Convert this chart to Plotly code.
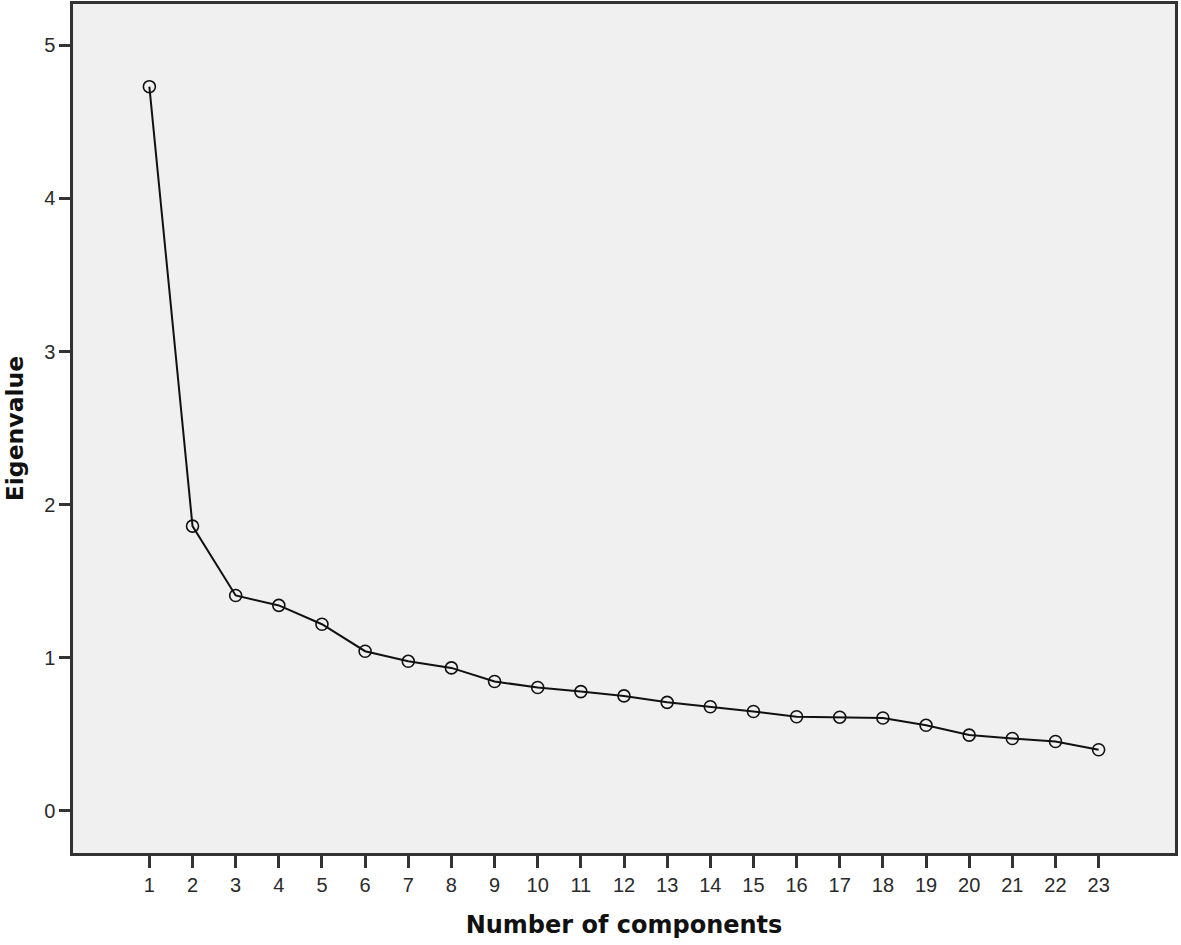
import plotly.graph_objects as go

components = list(range(1, 24))
eigenvalues = [4.73, 1.86, 1.407, 1.342, 1.219, 1.043, 0.977, 0.934, 0.845, 0.806, 0.779,
               0.751, 0.709, 0.68, 0.649, 0.615, 0.612, 0.607, 0.559, 0.495, 0.473, 0.453, 0.399]
y_ticks = [0, 1, 2, 3, 4, 5]

fig = go.Figure()
fig.add_trace(go.Scatter(
    x=components, y=eigenvalues, mode="lines+markers",
    line=dict(color="#111111", width=2),
    marker=dict(symbol="circle-open", size=12, color="#111111", line=dict(width=1.6)),
    showlegend=False,
))

fig.update_layout(
    width=1181, height=945,
    margin=dict(l=73, r=6, t=4, b=92),
    paper_bgcolor="white",
    plot_bgcolor="#F0F0F0",
    font=dict(family="Liberation Sans, Arial, sans-serif", color="#222222"),
)
fig.update_xaxes(
    range=[-0.77, 24.77], tickvals=components, ticktext=[str(c) for c in components],
    showgrid=False, zeroline=False, automargin=False,
    showline=True, mirror=True, linecolor="#333333", linewidth=2.5,
    ticks="outside", ticklen=12, tickwidth=2.5, tickcolor="#333333",
    tickfont=dict(size=20, color="#2a2a2a"),
    title=dict(text="<b>Number of components</b>",
               font=dict(family="DejaVu Sans", size=24, color="#111111"), standoff=22),
)
fig.update_yaxes(
    range=[-0.275, 5.27], tickvals=y_ticks,
    showgrid=False, zeroline=False, automargin=False,
    showline=True, mirror=True, linecolor="#333333", linewidth=2.5,
    ticks="outside", ticklen=11, tickwidth=2.5, tickcolor="#333333",
    tickfont=dict(size=20, color="#2a2a2a"),
    title=dict(text="<b>Eigenvalue</b>",
               font=dict(family="DejaVu Sans", size=23.5, color="#111111"), standoff=14),
)

fig.write_html("out.html", config={"displayModeBar": False},
               post_script="document.body.style.margin='0';")
